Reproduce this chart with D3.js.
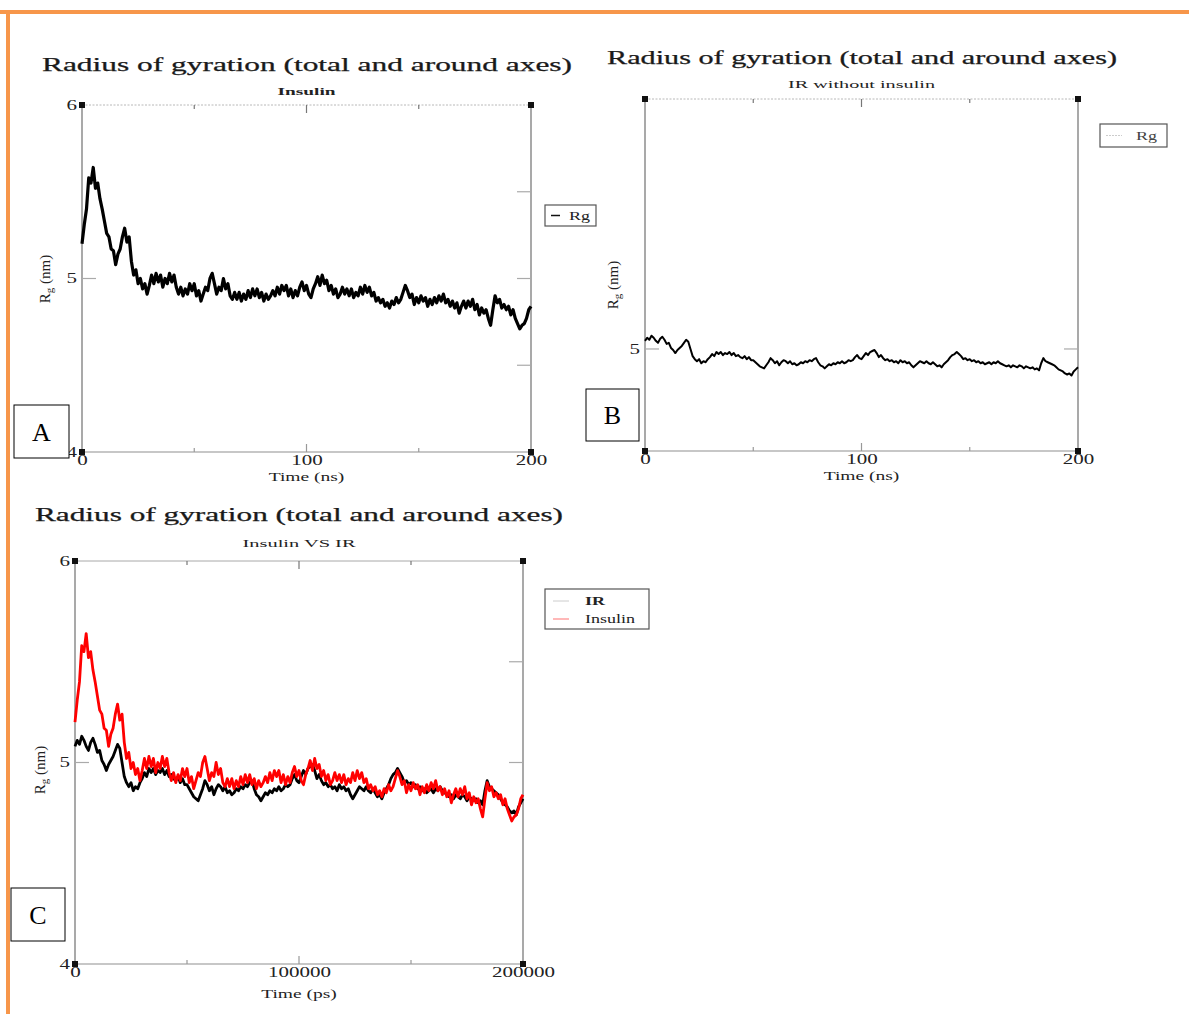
<!DOCTYPE html>
<html>
<head>
<meta charset="utf-8">
<script src="https://cdn.jsdelivr.net/npm/d3@7"></script>
<style>
  body { margin: 0; background: #fff; }
  svg { display: block; font-family: "Liberation Serif", "DejaVu Serif", serif; }
</style>
</head>
<body>
<svg id="fig" width="1189" height="1014"></svg>
<script>
'use strict';

// Rg (nm) of insulin, one sample per ns (0..200)
const insulinRg = [
  5.20, 5.31, 5.40, 5.58, 5.55, 5.64, 5.52, 5.55, 5.46, 5.40,
  5.33, 5.26, 5.24, 5.17, 5.16, 5.08, 5.14, 5.17, 5.24, 5.29,
  5.21, 5.24, 5.10, 5.02, 5.05, 4.97, 5.00, 4.94, 4.97, 4.91,
  4.96, 5.02, 4.97, 5.03, 4.98, 5.02, 4.95, 5.00, 4.97, 5.03,
  4.98, 5.02, 4.95, 4.91, 4.95, 4.90, 4.94, 4.91, 4.97, 4.93,
  4.97, 4.90, 4.93, 4.87, 4.91, 4.95, 4.93, 5.00, 5.03, 4.97,
  4.91, 4.95, 4.93, 5.00, 4.94, 4.97, 4.90, 4.88, 4.92, 4.88,
  4.92, 4.87, 4.91, 4.88, 4.93, 4.89, 4.94, 4.90, 4.94, 4.89,
  4.92, 4.87, 4.91, 4.88, 4.90, 4.93, 4.90, 4.95, 4.91, 4.96,
  4.93, 4.96, 4.90, 4.94, 4.89, 4.93, 4.90, 4.95, 4.98, 4.93,
  4.96, 4.91, 4.89, 4.94, 4.97, 5.01, 4.96, 5.02, 4.97, 4.99,
  4.93, 4.96, 4.91, 4.94, 4.89, 4.91, 4.95, 4.91, 4.94, 4.90,
  4.94, 4.89, 4.92, 4.90, 4.95, 4.91, 4.96, 4.92, 4.95, 4.90,
  4.92, 4.87, 4.89, 4.86, 4.88, 4.84, 4.86, 4.83, 4.87, 4.85,
  4.89, 4.86, 4.88, 4.92, 4.96, 4.93, 4.89, 4.91, 4.85, 4.89,
  4.86, 4.90, 4.87, 4.89, 4.84, 4.88, 4.85, 4.89, 4.86, 4.90,
  4.87, 4.91, 4.86, 4.88, 4.84, 4.87, 4.83, 4.86, 4.80, 4.84,
  4.87, 4.83, 4.87, 4.84, 4.88, 4.82, 4.85, 4.79, 4.83, 4.80,
  4.82, 4.77, 4.73, 4.82, 4.90, 4.86, 4.88, 4.83, 4.85, 4.82,
  4.84, 4.79, 4.82, 4.77, 4.74, 4.71, 4.73, 4.74, 4.77, 4.82,
  4.84
];

// Rg (nm) of IR without insulin, one sample per ns
const irRg = [
  5.08, 5.11, 5.09, 5.13, 5.11, 5.08, 5.06, 5.10, 5.12, 5.09,
  5.05, 5.06, 5.01, 4.99, 4.96, 4.99, 5.01, 5.03, 5.06, 5.09,
  5.07, 5.00, 4.93, 4.90, 4.88, 4.90, 4.86, 4.88, 4.87, 4.90,
  4.92, 4.95, 4.93, 4.97, 4.95, 4.97, 4.94, 4.96, 4.95, 4.97,
  4.94, 4.96, 4.93, 4.94, 4.92, 4.91, 4.93, 4.90, 4.92, 4.89,
  4.89, 4.87, 4.85, 4.83, 4.82, 4.81, 4.84, 4.87, 4.91, 4.89,
  4.86, 4.88, 4.84, 4.87, 4.89, 4.88, 4.86, 4.88, 4.85, 4.86,
  4.84, 4.85, 4.87, 4.86, 4.88, 4.87, 4.89, 4.88, 4.90, 4.91,
  4.87, 4.84, 4.83, 4.81, 4.83, 4.85, 4.84, 4.86, 4.85, 4.87,
  4.86, 4.88, 4.86, 4.87, 4.89, 4.88, 4.89, 4.92, 4.94, 4.91,
  4.90, 4.93, 4.96, 4.94, 4.97, 4.98, 4.99, 4.96, 4.92, 4.94,
  4.91, 4.89, 4.90, 4.88, 4.89, 4.87, 4.88, 4.86, 4.89, 4.87,
  4.88, 4.86, 4.87, 4.84, 4.82, 4.84, 4.86, 4.88, 4.87, 4.86,
  4.88, 4.86, 4.85, 4.87, 4.85, 4.83, 4.84, 4.82, 4.85, 4.87,
  4.89, 4.92, 4.94, 4.95, 4.97, 4.95, 4.93, 4.90, 4.91, 4.89,
  4.90, 4.88, 4.89, 4.87, 4.88, 4.86, 4.87, 4.85, 4.86, 4.87,
  4.85, 4.87, 4.86, 4.88, 4.86, 4.85, 4.84, 4.83, 4.84, 4.82,
  4.84, 4.83, 4.82, 4.84, 4.83, 4.81, 4.83, 4.82, 4.81, 4.82,
  4.80, 4.81, 4.79, 4.86, 4.91, 4.88, 4.87, 4.86, 4.85, 4.84,
  4.82, 4.80, 4.79, 4.78, 4.76, 4.75, 4.76, 4.74, 4.78, 4.80,
  4.82
];

const timeNs = insulinRg.map((v, i) => i);
const timePs = timeNs.map(t => t * 1000);

const nsLabels = [0, 100, 200];
const nsMinor = [50, 150];
const nsMajor = [100];
const psLabels = [0, 100000, 200000];
const psMinor = [50000, 150000];
const psMajor = [100000];

const mainTitle = 'Radius of gyration (total and around axes)';
const panelSubtitles = ['Insulin', 'IR without insulin', 'Insulin VS IR'];
const legendA = ['Rg'];
const legendB = ['Rg'];
const legendC = ['IR', 'Insulin'];

const orange = '#f7964a';
const frameGrey = '#8c8c8c';
const STRETCH = 1.5;

const svg = d3.select('#fig');

// orange page frame
svg.append('rect').attr('x', 0).attr('y', 10).attr('width', 1189).attr('height', 4).attr('fill', orange);
svg.append('rect').attr('x', 6).attr('y', 10).attr('width', 4).attr('height', 1004).attr('fill', orange);

function rgLabel (g, cx, cy) {
    const t = g.append('text')
        .attr('transform', `translate(${cx},${cy}) rotate(-90)`)
        .attr('text-anchor', 'middle')
        .attr('font-size', 15)
        .attr('fill', '#222');
    t.append('tspan').text('R');
    t.append('tspan').attr('font-size', 11).attr('dy', 3).text('g');
    t.append('tspan').attr('dy', -3).text(' (nm)');
}

function drawPanel (p) {
    const g = svg.append('g');
    const x = d3.scaleLinear().domain(p.xDomain).range([p.left, p.right]);
    const y = d3.scaleLinear().domain(p.yDomain).range([p.bottom, p.top]);

    // titles
    g.append('text')
        .attr('x', p.titleX).attr('y', p.titleY)
        .attr('text-anchor', 'middle')
        .attr('font-size', 18)
        .attr('fill', '#1a1a1a')
        .attr('stroke', '#1a1a1a').attr('stroke-width', 0.25)
        .attr('textLength', p.titleW).attr('lengthAdjust', 'spacingAndGlyphs')
        .text(mainTitle);
    g.append('text')
        .attr('x', (p.left + p.right) / 2).attr('y', p.subY)
        .attr('text-anchor', 'middle')
        .attr('font-size', 11)
        .attr('font-weight', p.subBold ? 'bold' : 'normal')
        .attr('fill', '#222')
        .attr('textLength', p.subW).attr('lengthAdjust', 'spacingAndGlyphs')
        .text(p.subtitle);

    // frame
    g.append('line').attr('x1', p.left).attr('x2', p.right).attr('y1', p.top).attr('y2', p.top)
        .attr('stroke', p.topSolid ? '#a8a8a8' : '#b8b8b8')
        .attr('stroke-dasharray', p.topSolid ? null : '2,1.5');
    g.append('line').attr('x1', p.left).attr('x2', p.right).attr('y1', p.bottom).attr('y2', p.bottom)
        .attr('stroke', '#b5b5b5').attr('stroke-width', 1.5);
    g.append('line').attr('x1', p.left).attr('x2', p.left).attr('y1', p.top).attr('y2', p.bottom)
        .attr('stroke', frameGrey).attr('stroke-width', 1.5);
    g.append('line').attr('x1', p.right).attr('x2', p.right).attr('y1', p.top).attr('y2', p.bottom)
        .attr('stroke', frameGrey).attr('stroke-width', 1.5);

    // x tick marks on top and bottom
    const xt = p.xMinor.map(v => ({ v, len: 4 })).concat(p.xMajor.map(v => ({ v, len: 8 })));
    g.selectAll(null).data(xt).enter().append('line')
        .attr('x1', d => x(d.v)).attr('x2', d => x(d.v))
        .attr('y1', p.top).attr('y2', d => p.top + d.len)
        .attr('stroke', '#777').attr('stroke-width', 1.2);
    g.selectAll(null).data(xt).enter().append('line')
        .attr('x1', d => x(d.v)).attr('x2', d => x(d.v))
        .attr('y1', p.bottom).attr('y2', d => p.bottom - d.len)
        .attr('stroke', '#999').attr('stroke-width', 1.2);

    // y tick marks
    g.selectAll(null).data(p.yRightTicks).enter().append('line')
        .attr('x1', p.right).attr('x2', p.right - 14)
        .attr('y1', d => y(d)).attr('y2', d => y(d))
        .attr('stroke', '#aaa').attr('stroke-width', 1.2);
    g.selectAll(null).data(p.yLeftTicks).enter().append('line')
        .attr('x1', p.left).attr('x2', p.left + 14)
        .attr('y1', d => y(d)).attr('y2', d => y(d))
        .attr('stroke', '#aaa').attr('stroke-width', 1.2);

    // data
    p.series.forEach(s => {
        const line = d3.line()
            .x((d, i) => x(s.t[i]))
            .y(d => y(d));
        g.append('path')
            .datum(s.values)
            .attr('d', line)
            .attr('fill', 'none')
            .attr('stroke', s.colour)
            .attr('stroke-width', s.width)
            .attr('stroke-linejoin', 'round');
    });

    // corner squares
    const corners = [[p.xDomain[0], p.yDomain[1]], [p.xDomain[1], p.yDomain[1]],
                     [p.xDomain[0], p.yDomain[0]], [p.xDomain[1], p.yDomain[0]]];
    g.selectAll(null).data(corners).enter().append('rect')
        .attr('x', d => x(d[0]) - 3).attr('y', d => y(d[1]) - 3)
        .attr('width', 6).attr('height', 6)
        .attr('fill', '#111');

    // tick labels
    const xAxis = g.append('g')
        .attr('transform', `translate(0,${p.bottom + 2})`)
        .call(d3.axisBottom(x).tickValues(p.xLabels).tickSize(0).tickFormat(d3.format('d')))
        .attr('font-family', null).attr('font-size', null);
    xAxis.select('.domain').remove();
    xAxis.selectAll('text')
        .attr('font-size', 14).attr('fill', '#222')
        .attr('dy', '0.6em').classed('stretch', true);

    const yAxis = g.append('g')
        .attr('transform', `translate(${p.left - 5},0)`)
        .call(d3.axisLeft(y).tickValues(p.yLabels).tickSize(0).tickFormat(d3.format('d')))
        .attr('font-family', null).attr('font-size', null);
    yAxis.select('.domain').remove();
    yAxis.selectAll('text')
        .attr('font-size', 14).attr('fill', '#222')
        .attr('x', 0).classed('stretch', true);

    g.append('text')
        .attr('x', (p.left + p.right) / 2).attr('y', p.xTitleY)
        .attr('text-anchor', 'middle')
        .attr('font-size', 13).attr('fill', '#222')
        .classed('stretch', true)
        .text(p.xTitle);
    rgLabel(g, p.yTitleX, p.yTitleY);

    // legend
    const lg = g.append('g');
    lg.append('rect')
        .attr('x', p.legend.x).attr('y', p.legend.y)
        .attr('width', p.legend.w).attr('height', p.legend.h)
        .attr('fill', '#fff').attr('stroke', '#555').attr('stroke-width', 1.2);
    p.legend.items.forEach((it, i) => {
        const ly = p.legend.y + p.legend.first + i * p.legend.step;
        lg.append('line')
            .attr('x1', p.legend.x + p.legend.lineX).attr('x2', p.legend.x + p.legend.lineX + p.legend.lineW)
            .attr('y1', ly).attr('y2', ly)
            .attr('stroke', it.colour).attr('stroke-width', it.width)
            .attr('stroke-dasharray', it.dash || null);
        lg.append('text')
            .attr('x', p.legend.x + p.legend.textX).attr('y', ly + 4)
            .attr('font-size', 12)
            .attr('font-weight', it.bold ? 'bold' : 'normal')
            .attr('fill', it.textColour || '#222')
            .classed('stretch', true)
            .text(it.label);
    });

    // panel letter box
    g.append('rect')
        .attr('x', p.box.x).attr('y', p.box.y).attr('width', p.box.w).attr('height', p.box.h)
        .attr('fill', '#fff').attr('stroke', '#000').attr('stroke-width', 1);
    g.append('text')
        .attr('x', p.box.x + p.box.w / 2).attr('y', p.box.y + p.box.h / 2 + 9)
        .attr('text-anchor', 'middle')
        .attr('font-size', 26).attr('fill', '#000')
        .text(p.letter);
}

drawPanel({
    left: 82, right: 531, top: 105, bottom: 452,
    xDomain: [0, 200], yDomain: [4, 6],
    titleX: 307, titleY: 71, titleW: 530,
    subtitle: panelSubtitles[0], subY: 95, subW: 58, subBold: true,
    topSolid: false,
    xMinor: nsMinor, xMajor: nsMajor,
    yRightTicks: [4.5, 5, 5.5], yLeftTicks: [5],
    xLabels: nsLabels, yLabels: [4, 5, 6],
    xTitle: 'Time (ns)', xTitleY: 481,
    yTitleX: 50, yTitleY: 279,
    series: [{ t: timeNs, values: insulinRg, colour: '#000', width: 3.2 }],
    legend: { x: 545, y: 205, w: 51, h: 21, first: 10.5, step: 0, lineX: 6, lineW: 9, textX: 24,
              items: [{ label: legendA[0], colour: '#111', width: 1.5 }] },
    box: { x: 14, y: 405, w: 55, h: 53 }, letter: 'A'
});

drawPanel({
    left: 645, right: 1078, top: 99, bottom: 451,
    xDomain: [0, 200], yDomain: [4, 7.45],
    titleX: 862, titleY: 64, titleW: 510,
    subtitle: panelSubtitles[1], subY: 88, subW: 147, subBold: false,
    topSolid: false,
    xMinor: nsMinor, xMajor: nsMajor,
    yRightTicks: [5], yLeftTicks: [5],
    xLabels: nsLabels, yLabels: [5],
    xTitle: 'Time (ns)', xTitleY: 480,
    yTitleX: 618, yTitleY: 285,
    series: [{ t: timeNs, values: irRg, colour: '#000', width: 2 }],
    legend: { x: 1100, y: 124, w: 67, h: 23, first: 11.5, step: 0, lineX: 6, lineW: 16, textX: 36,
              items: [{ label: legendB[0], colour: '#ccc', width: 1, dash: '2,1', textColour: '#444' }] },
    box: { x: 586, y: 389, w: 53, h: 52 }, letter: 'B'
});

drawPanel({
    left: 75, right: 523, top: 561, bottom: 964,
    xDomain: [0, 200000], yDomain: [4, 6],
    titleX: 299, titleY: 521, titleW: 528,
    subtitle: panelSubtitles[2], subY: 547, subW: 113, subBold: false,
    topSolid: true,
    xMinor: psMinor, xMajor: psMajor,
    yRightTicks: [5, 5.5], yLeftTicks: [5],
    xLabels: psLabels, yLabels: [4, 5, 6],
    xTitle: 'Time (ps)', xTitleY: 998,
    yTitleX: 45, yTitleY: 770,
    series: [
        { t: timePs, values: irRg, colour: '#000', width: 2.8 },
        { t: timePs, values: insulinRg, colour: '#f00', width: 2.8 }
    ],
    legend: { x: 545, y: 589, w: 104, h: 40, first: 12, step: 18, lineX: 8, lineW: 16, textX: 40,
              items: [
                  { label: legendC[0], colour: '#ccc', width: 1, bold: true },
                  { label: legendC[1], colour: '#f88', width: 1.2 }
              ] },
    box: { x: 11, y: 888, w: 54, h: 53 }, letter: 'C'
});

// the source figure is stretched horizontally; widen the small labels to match
svg.selectAll('text.stretch').each(function () {
    const w = this.getComputedTextLength();
    d3.select(this).attr('textLength', w * STRETCH).attr('lengthAdjust', 'spacingAndGlyphs');
});
</script>
</body>
</html>
